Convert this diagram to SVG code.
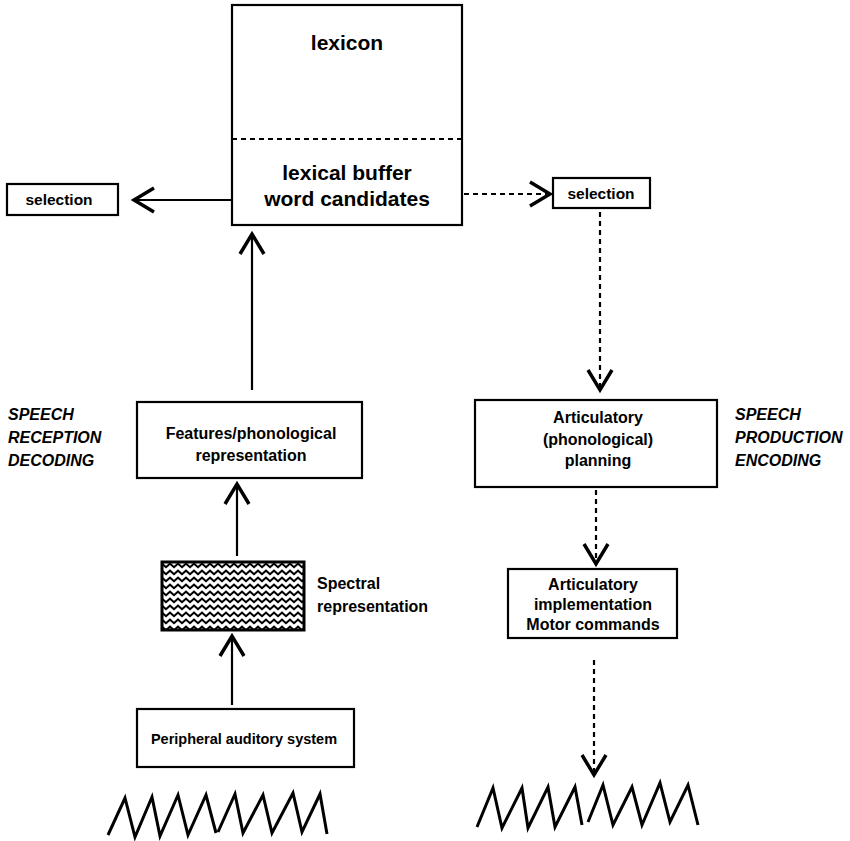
<svg xmlns="http://www.w3.org/2000/svg" width="850" height="841" viewBox="0 0 850 841">
<style>
.box{fill:#fff;stroke:#000;stroke-width:2.2}
.t{font-family:"Liberation Sans",Arial,sans-serif;font-weight:bold;fill:#000;text-anchor:middle}
.st{text-anchor:start}
.s14{font-size:14.5px}
.s15{font-size:15.5px}
.s16{font-size:16px}
.s20{font-size:21px}
.side{font-family:"Liberation Sans",Arial,sans-serif;font-weight:bold;font-style:italic;font-size:16px;fill:#000}
.ln{stroke:#000;stroke-width:2.2;fill:none}
.dash{stroke:#000;stroke-width:2.2;fill:none;stroke-dasharray:5 4}
.wave{stroke:#000;stroke-width:3;fill:none;stroke-linejoin:miter}
</style>
<defs>
<marker id="ah" markerUnits="userSpaceOnUse" markerWidth="40" markerHeight="40" viewBox="-20 -15 26 30" refX="0" refY="0" orient="auto">
<path d="M-15,-9 L0,0 L-15,9" fill="none" stroke="#000" stroke-width="2.6"/>
</marker>
<pattern id="zz" patternUnits="userSpaceOnUse" width="8" height="7" x="162" y="562">
<path d="M-4,5.2 L0,1.6 L4,5.2 L8,1.6 L12,5.2" fill="none" stroke="#000" stroke-width="2.1"/>
</pattern>
</defs>

<g id="connectors">
<line class="ln" x1="232" y1="200" x2="134" y2="200" marker-end="url(#ah)"/>
<line class="ln" x1="252" y1="390" x2="252" y2="234" marker-end="url(#ah)"/>
<line class="ln" x1="237" y1="556" x2="237" y2="484" marker-end="url(#ah)"/>
<line class="ln" x1="232" y1="705" x2="232" y2="636" marker-end="url(#ah)"/>
<line class="dash" x1="464" y1="194" x2="550" y2="194" marker-end="url(#ah)"/>
<line class="dash" x1="600" y1="212" x2="600" y2="390" marker-end="url(#ah)"/>
<line class="dash" x1="596" y1="490" x2="596" y2="564" marker-end="url(#ah)"/>
<line class="dash" x1="594" y1="660" x2="594" y2="775" marker-end="url(#ah)"/>
</g>

<g id="lexicon">
<rect class="box" x="232" y="5" width="230" height="220"/>
<line x1="232" y1="139" x2="462" y2="139" stroke="#000" stroke-width="2" stroke-dasharray="5 4"/>
<text class="t s20" x="347" y="50">lexicon</text>
<text class="t s20" x="347" y="180">lexical buffer</text>
<text class="t s20" x="347" y="206">word candidates</text>
</g>

<g id="selection-left">
<rect class="box" x="7" y="184" width="111" height="31"/>
<text class="t s15" x="59" y="205">selection</text>
</g>

<g id="selection-right">
<rect class="box" x="553" y="178" width="97" height="30"/>
<text class="t s15" x="601" y="199">selection</text>
</g>

<g id="features">
<rect class="box" x="137" y="402" width="225" height="76"/>
<text class="t s16" x="251" y="439">Features/phonological</text>
<text class="t s16" x="251" y="461">representation</text>
</g>

<g id="reception-label">
<text class="side" x="8" y="420">SPEECH</text>
<text class="side" x="8" y="443">RECEPTION</text>
<text class="side" x="8" y="466">DECODING</text>
</g>

<g id="planning">
<rect class="box" x="475" y="400" width="242" height="87"/>
<text class="t s16" x="598" y="423">Articulatory</text>
<text class="t s16" x="598" y="445">(phonological)</text>
<text class="t s16" x="598" y="466">planning</text>
</g>

<g id="production-label">
<text class="side" x="735" y="420">SPEECH</text>
<text class="side" x="735" y="443">PRODUCTION</text>
<text class="side" x="735" y="466">ENCODING</text>
</g>

<g id="spectral">
<rect x="162" y="562" width="142" height="68" fill="url(#zz)" stroke="#000" stroke-width="3"/>
<text class="t s16 st" x="317" y="589">Spectral</text>
<text class="t s16 st" x="317" y="612">representation</text>
</g>

<g id="implementation">
<rect class="box" x="508" y="569" width="169" height="69"/>
<text class="t s16" x="593" y="590">Articulatory</text>
<text class="t s16" x="593" y="610">implementation</text>
<text class="t s16" x="593" y="630">Motor commands</text>
</g>

<g id="peripheral">
<rect class="box" x="137" y="709" width="217" height="58"/>
<text class="t s14" x="244" y="744">Peripheral auditory system</text>
</g>

<g id="wave-left">
<polyline class="wave" points="108,835 125,798 135,837 152,797 160,836 178,795 188,835 206,795 216,833"/>
<polyline class="wave" points="218,832 235,794 243,833 263,795 272,833 293,793 302,832 320,794 327,834"/>
</g>

<g id="wave-right">
<polyline class="wave" points="477,827 493,788 502,828 522,788 528,828 548,787 555,827 575,787 582,825"/>
<polyline class="wave" points="588,822 603,785 613,825 632,787 642,825 660,783 670,822 688,785 698,825"/>
</g>
</svg>
